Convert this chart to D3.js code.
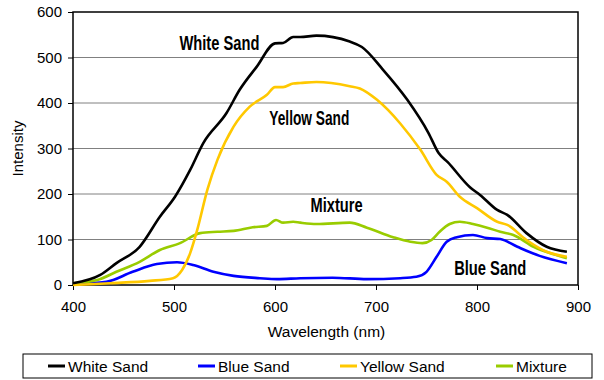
<!DOCTYPE html>
<html lang="en">
<head>
  <meta charset="UTF-8">
  <title>Sand Spectra</title>
  <script src="https://d3js.org/d3.v7.min.js"></script>
  <style>
    body, html {
      margin: 0;
      padding: 0;
      background: #fff;
      overflow: hidden;
    }
    svg {
      display: block;
      font-family: "Liberation Sans", Arial, sans-serif;
    }
    .grid line {
      stroke: #808080;
      stroke-width: 1px;
    }
    .series {
      fill: none;
      stroke-width: 2.6px;
      stroke-linejoin: round;
    }
    .note {
      font-family: "Liberation Sans Narrow", "Liberation Sans", Arial, sans-serif;
      font-weight: bold;
      font-size: 20px;
    }
  </style>
</head>
<body>
  <svg id="chart" width="604" height="380"></svg>

  <script>
    // wavelength (nm) / intensity pairs
    const whiteWl = [400, 427, 443, 466, 486, 501, 516, 529, 552, 565, 582, 600, 608, 618, 625, 641, 674, 686, 707, 731, 752, 762, 771, 793, 803, 820, 830, 849, 869, 889];
    const whiteI  = [4, 22, 48, 84, 150, 194, 253, 312, 378, 429, 480, 531, 532, 545, 545, 548, 535, 523, 473, 407, 334, 290, 270, 215, 198, 165, 154, 114, 84, 73];

    const blueWl = [400, 433, 459, 483, 503, 519, 539, 559, 585, 602, 625, 657, 691, 724, 740, 750, 760, 770, 780, 796, 810, 823, 840, 862, 889];
    const blueI  = [2, 7, 29, 46, 50, 44, 29, 20, 15, 13, 15, 16, 13, 15, 18, 29, 62, 95, 105, 110, 103, 101, 84, 64, 48];

    const yellowWl = [400, 437, 476, 499, 508, 516, 523, 533, 543, 559, 575, 592, 600, 608, 618, 625, 641, 674, 684, 701, 724, 744, 760, 770, 783, 800, 820, 830, 849, 869, 889];
    const yellowI  = [0, 4, 9, 15, 33, 70, 121, 209, 275, 348, 392, 418, 435, 435, 443, 444, 446, 437, 432, 407, 355, 297, 242, 227, 194, 169, 139, 132, 99, 73, 62];

    const mixWl = [400, 424, 443, 466, 486, 506, 526, 543, 559, 578, 592, 601, 608, 618, 625, 641, 674, 691, 717, 734, 746, 755, 763, 773, 783, 796, 810, 823, 836, 856, 875, 889];
    const mixI  = [4, 11, 29, 51, 77, 92, 114, 117, 119, 127, 130, 143, 137, 139, 137, 134, 137, 126, 105, 95, 92, 99, 117, 134, 139, 134, 126, 117, 110, 84, 68, 59];

    const seriesNames = ["White Sand", "Blue Sand", "Yellow Sand", "Mixture"];
    const seriesColors = ["#000000", "#0000ff", "#ffc800", "#99cc00"];
    const xTicks = [400, 500, 600, 700, 800, 900];
    const yTicks = [0, 100, 200, 300, 400, 500, 600];

    const series = [
      { name: seriesNames[0], color: seriesColors[0], wl: whiteWl, val: whiteI },
      { name: seriesNames[1], color: seriesColors[1], wl: blueWl, val: blueI },
      { name: seriesNames[2], color: seriesColors[2], wl: yellowWl, val: yellowI },
      { name: seriesNames[3], color: seriesColors[3], wl: mixWl, val: mixI }
    ];

    const svg = d3.select("#chart");
    const plotL = 73, plotR = 578, plotT = 12, plotB = 285;

    const x = d3.scaleLinear().domain([400, 900]).range([plotL, plotR]);
    const y = d3.scaleLinear().domain([0, 600]).range([plotB, plotT]);

    // horizontal gridlines
    svg.append("g")
      .attr("class", "grid")
      .selectAll("line")
      .data(yTicks.slice(1, -1))
      .join("line")
      .attr("x1", plotL)
      .attr("x2", plotR)
      .attr("y1", d => y(d))
      .attr("y2", d => y(d));

    // plot frame
    svg.append("rect")
      .attr("x", plotL)
      .attr("y", plotT)
      .attr("width", plotR - plotL)
      .attr("height", plotB - plotT)
      .attr("fill", "none")
      .attr("stroke", "#000")
      .attr("stroke-width", 1.5);

    // axes
    const yAxis = svg.append("g")
      .attr("transform", `translate(${plotL},0)`)
      .call(d3.axisLeft(y).tickValues(yTicks).tickSize(5).tickPadding(6));
    const xAxis = svg.append("g")
      .attr("transform", `translate(0,${plotB})`)
      .call(d3.axisBottom(x).tickValues(xTicks).tickSize(5).tickPadding(11));

    [yAxis, xAxis].forEach(g => {
      g.select(".domain").remove();
      g.selectAll("line").attr("stroke", "#000");
      g.selectAll("text")
        .attr("font-family", "'Liberation Sans', Arial, sans-serif")
        .attr("font-size", 15)
        .attr("fill", "#000");
    });

    // axis titles
    svg.append("text")
      .attr("x", (plotL + plotR) / 2 + 1)
      .attr("y", 337)
      .attr("text-anchor", "middle")
      .attr("font-size", 15.5)
      .text("Wavelength (nm)");

    svg.append("text")
      .attr("transform", `translate(23,${(plotT + plotB) / 2}) rotate(-90)`)
      .attr("text-anchor", "middle")
      .attr("font-size", 15)
      .text("Intensity");

    // lines
    const line = d3.line()
      .x(d => x(d[0]))
      .y(d => y(d[1]))
      .curve(d3.curveMonotoneX);

    // draw order: blue, mixture, yellow, white on top
    [1, 3, 2, 0].forEach(i => {
      const s = series[i];
      svg.append("path")
        .attr("class", "series")
        .attr("stroke", s.color)
        .attr("d", line(s.wl.map((w, j) => [w, s.val[j]])));
    });

    // in-chart labels
    const notes = [
      { text: "White Sand", wl: 545, v: 532, w: 80 },
      { text: "Yellow Sand", wl: 634, v: 367, w: 80 },
      { text: "Mixture", wl: 661, v: 176, w: 52 },
      { text: "Blue Sand", wl: 813, v: 37, w: 72 }
    ];
    svg.selectAll(".note")
      .data(notes)
      .join("text")
      .attr("class", "note")
      .attr("x", d => x(d.wl))
      .attr("y", d => y(d.v))
      .attr("text-anchor", "middle")
      .attr("dy", "0.36em")
      .attr("textLength", d => d.w)
      .attr("lengthAdjust", "spacingAndGlyphs")
      .text(d => d.text);

    // legend
    svg.append("rect")
      .attr("x", 23)
      .attr("y", 354)
      .attr("width", 569)
      .attr("height", 24)
      .attr("fill", "#fff")
      .attr("stroke", "#000")
      .attr("stroke-width", 1);

    const legendX = [48, 198, 340, 496];
    const leg = svg.selectAll(".leg")
      .data(series)
      .join("g")
      .attr("class", "leg")
      .attr("transform", (d, i) => `translate(${legendX[i]},366)`);
    leg.append("line")
      .attr("x1", 0)
      .attr("x2", 17)
      .attr("stroke", d => d.color)
      .attr("stroke-width", 3);
    leg.append("text")
      .attr("x", 20)
      .attr("dy", "0.36em")
      .attr("font-size", 15.5)
      .text(d => d.name);
  </script>
</body>
</html>
